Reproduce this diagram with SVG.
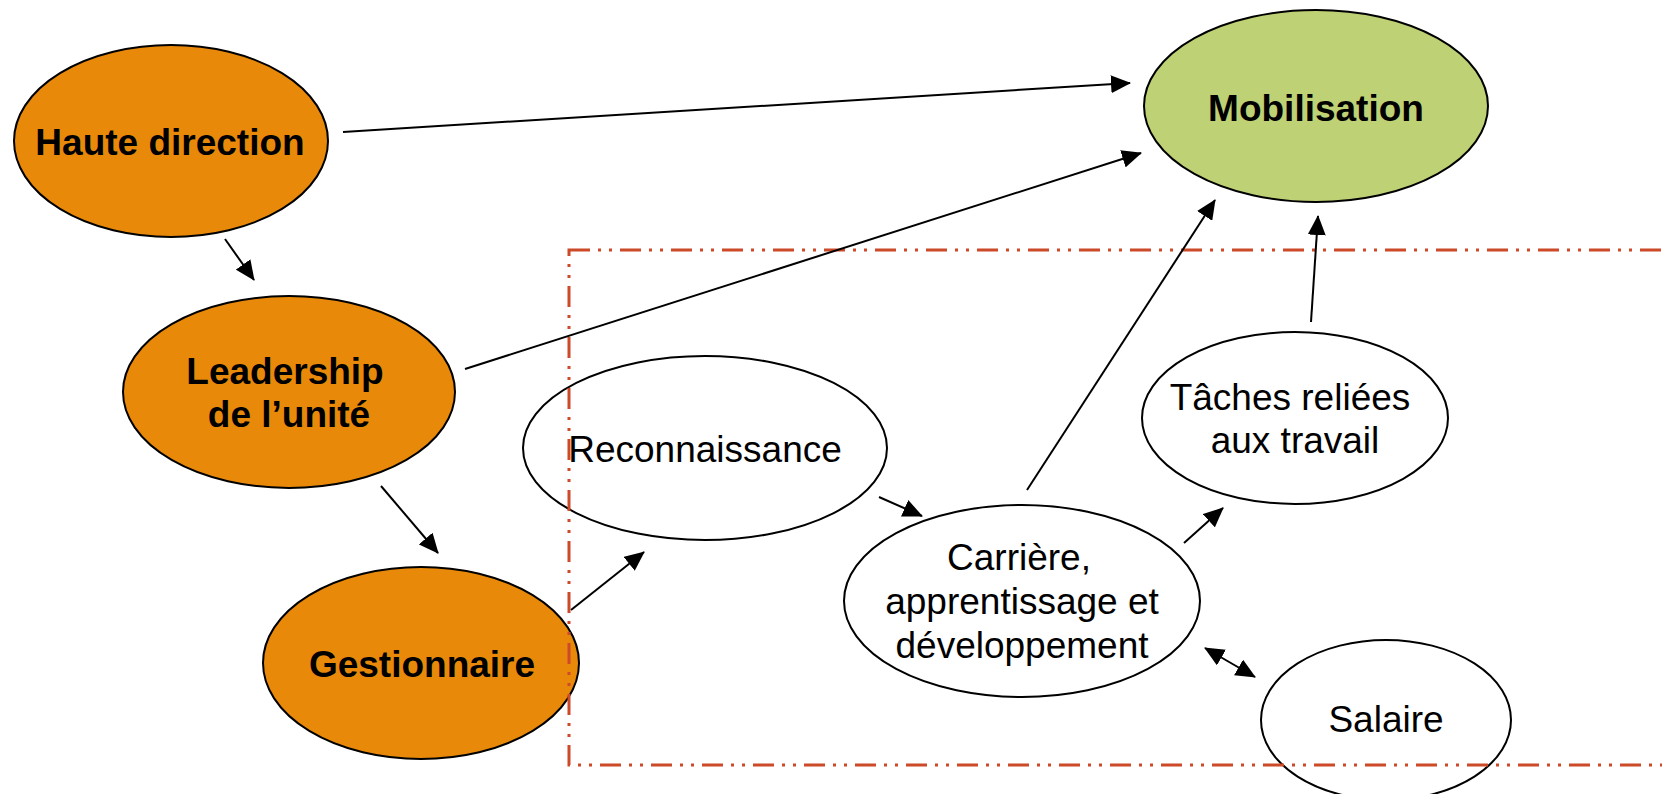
<svg xmlns="http://www.w3.org/2000/svg" width="1662" height="794" viewBox="0 0 1662 794">
<defs>
<style>
.node{stroke:#000;stroke-width:2}
.orange{fill:#E8890A}
.green{fill:#BED174}
.white{fill:#fff}
.lb{font-family:"Liberation Sans",Arial,sans-serif;font-size:37px;font-weight:bold;text-anchor:middle;fill:#000}
.ln{font-family:"Liberation Sans",Arial,sans-serif;font-size:37px;text-anchor:middle;fill:#000}
.conn{stroke:#000;stroke-width:2;fill:none}
.frame{fill:none;stroke:#CC4A28;stroke-width:3;stroke-dasharray:21 8 3 8 3 8}
</style>
<marker id="ah" markerUnits="userSpaceOnUse" markerWidth="20" markerHeight="18" refX="19" refY="9" orient="auto-start-reverse" viewBox="0 0 20 18">
<path d="M0,0 L20,9 L0,18 Z" fill="#000"/>
</marker>
</defs>
<rect width="1662" height="794" fill="#fff"/>
<g id="haute-direction">
<ellipse class="node orange" cx="171" cy="141" rx="157" ry="96"/>
<text class="lb" x="170" y="155">Haute direction</text>
</g>
<g id="mobilisation">
<ellipse class="node green" cx="1316" cy="106" rx="172" ry="96"/>
<text class="lb" x="1316" y="121">Mobilisation</text>
</g>
<g id="leadership">
<ellipse class="node orange" cx="289" cy="392" rx="166" ry="96"/>
<text class="lb" x="285" y="384">Leadership</text>
<text class="lb" x="289" y="427">de l’unité</text>
</g>
<g id="gestionnaire">
<ellipse class="node orange" cx="421" cy="663" rx="158" ry="96"/>
<text class="lb" x="422" y="677">Gestionnaire</text>
</g>
<g id="reconnaissance">
<ellipse class="node white" cx="705" cy="448" rx="182" ry="92"/>
<text class="ln" x="705" y="462">Reconnaissance</text>
</g>
<g id="carriere">
<ellipse class="node white" cx="1022" cy="601" rx="178" ry="96"/>
<text class="ln" x="1019" y="570">Carrière,</text>
<text class="ln" x="1022" y="614">apprentissage et</text>
<text class="ln" x="1022" y="658">développement</text>
</g>
<g id="taches">
<ellipse class="node white" cx="1295" cy="418" rx="153" ry="86"/>
<text class="ln" x="1290" y="410">Tâches reliées</text>
<text class="ln" x="1295" y="453">aux travail</text>
</g>
<g id="salaire">
<ellipse class="node white" cx="1386" cy="720" rx="125" ry="80"/>
<text class="ln" x="1386" y="732">Salaire</text>
</g>
<rect id="frame" class="frame" x="569" y="250" width="1120" height="515"/>
<g id="connectors">
<line class="conn" x1="343" y1="132" x2="1130" y2="83" marker-end="url(#ah)"/>
<line class="conn" x1="465" y1="369" x2="1141" y2="153" marker-end="url(#ah)"/>
<line class="conn" x1="225" y1="239" x2="254" y2="280" marker-end="url(#ah)"/>
<line class="conn" x1="381" y1="486" x2="438" y2="553" marker-end="url(#ah)"/>
<line class="conn" x1="571" y1="610" x2="644" y2="552" marker-end="url(#ah)"/>
<line class="conn" x1="879" y1="497" x2="922" y2="516" marker-end="url(#ah)"/>
<line class="conn" x1="1027" y1="490" x2="1215" y2="200" marker-end="url(#ah)"/>
<line class="conn" x1="1311" y1="322" x2="1318" y2="216" marker-end="url(#ah)"/>
<line class="conn" x1="1184" y1="543" x2="1223" y2="508" marker-end="url(#ah)"/>
<line class="conn" x1="1205" y1="648" x2="1255" y2="677" marker-start="url(#ah)" marker-end="url(#ah)"/>
</g>
</svg>
